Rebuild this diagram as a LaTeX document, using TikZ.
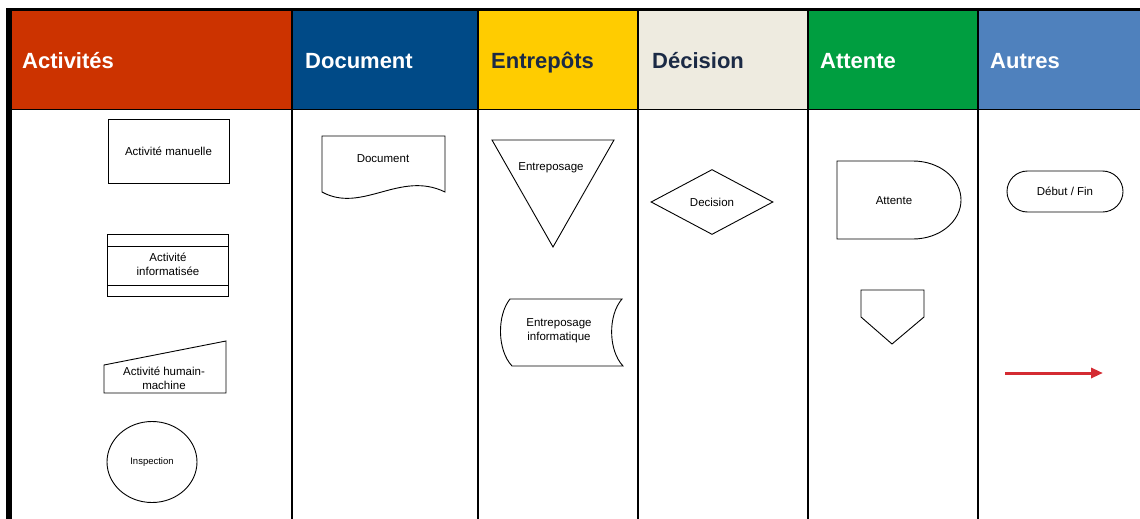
\documentclass[tikz,border=0pt]{standalone}
\usepackage{fontspec}
\setmainfont{Liberation Sans}
\usetikzlibrary{shapes.geometric,shapes.misc,arrows.meta}
\definecolor{actred}{HTML}{CC3300}
\definecolor{docblue}{HTML}{004A87}
\definecolor{entyellow}{HTML}{FFCC00}
\definecolor{decbeige}{HTML}{EEEBE0}
\definecolor{attgreen}{HTML}{009E40}
\definecolor{autblue}{HTML}{4F81BD}
\definecolor{headdark}{HTML}{1B2A45}
\definecolor{arrowred}{HTML}{D42B32}
\tikzset{
  lanehead/.style={anchor=base west, inner sep=0pt, font=\bfseries\fontsize{22}{24}\selectfont},
  lanerule/.style={draw=black, line width=1.5pt},
  headrule/.style={draw=black, line width=1pt},
  symline/.style={draw=black, line width=0.9pt},
  symlabel/.style={inner sep=0pt, align=center, font=\fontsize{11.5}{14}\selectfont},
  symnode/.style={symline, symlabel},
  flowarrow/.style={draw=arrowred, line width=3pt, -{Triangle[length=12pt, width=10pt]}}
}

\begin{document}
\begin{tikzpicture}[x=1pt,y=-1pt]
  \useasboundingbox (0,0) rectangle (1140,519);

  % header band
  \fill[actred] (12,11) rectangle (292,109);
  \fill[docblue] (292,11) rectangle (478,109);
  \fill[entyellow] (478,11) rectangle (638,109);
  \fill[decbeige] (638,11) rectangle (808,109);
  \fill[attgreen] (808,11) rectangle (978,109);
  \fill[autblue] (978,11) rectangle (1140,109);
  \node[lanehead, text=white] (hAct) at (22,68) {Activités};
  \node[lanehead, text=white] (hDoc) at (305,68) {Document};
  \node[lanehead, text=headdark] (hEnt) at (491,68) {Entrepôts};
  \node[lanehead, text=headdark] (hDec) at (652,68) {Décision};
  \node[lanehead, text=white] (hAtt) at (820,68) {Attente};
  \node[lanehead, text=white] (hAut) at (990,68) {Autres};

  % frame and lane rules
  \fill[black] (6,8) rectangle (12,519);
  \fill[black] (6,8) rectangle (1140,11);
  \draw[headrule] (12,109) -- (1140,109);
  \draw[lanerule] (292,11) -- (292,519);
  \draw[lanerule] (478,11) -- (478,519);
  \draw[lanerule] (638,11) -- (638,519);
  \draw[lanerule] (808,11) -- (808,519);
  \draw[lanerule] (978,11) -- (978,519);

  % Activites
  \node[symnode, rectangle, minimum width=121pt, minimum height=64pt] (manuelle) at (168.5,151) {Activité manuelle};
  \draw[symline] (107,234) rectangle (228,296);
  \draw[symline] (107,246) -- (228,246);
  \draw[symline] (107,285) -- (228,285);
  \node[symlabel] (informat) at (168,264) {Activité\\informatisée};
  \draw[symline] (104,365) -- (226,341) -- (226,393) -- (104,393) -- cycle;
  \node[symlabel] (humain) at (164,378) {Activité humain-\\machine};
  \node[symnode, ellipse, minimum width=90pt, minimum height=81pt, font=\fontsize{9.5}{11}\selectfont] (inspect) at (152,462) {Inspection};

  % Document
  \draw[symline] (322,192) -- (322,136) -- (445,136) -- (445,192)
    .. controls (400,170) and (362,214) .. (322,192) -- cycle;
  \node[symlabel] (document) at (383,159) {Document};

  % Entrepots
  \draw[symline] (492,140) -- (614,140) -- (553,247) -- cycle;
  \node[symlabel] (entrepo) at (551,168) {Entreposage};
  \draw[symline] (510,299) -- (622,299) .. controls (608,315) and (608,350) .. (623,366)
    -- (512,366) .. controls (497,350) and (497,315) .. (510,299) -- cycle;
  \node[symlabel] (entinfo) at (559,331) {Entreposage\\informatique};

  % Decision
  \node[symnode, diamond, minimum width=122pt, minimum height=65pt] (decision) at (712,202) {Decision};

  % Attente
  \draw[symline] (837,161) -- (913,161) arc[start angle=-90, end angle=90, x radius=48, y radius=39]
    -- (837,239) -- cycle;
  \node[symlabel] (attente) at (894,201) {Attente};
  \draw[symline] (861,290) -- (924,290) -- (924,317) -- (892,344) -- (861,317) -- cycle;

  % Autres
  \node[symnode, rounded rectangle, minimum width=116pt, minimum height=41pt] (debfin) at (1065,191.5) {Début / Fin};
  \coordinate (arrS) at (1005,373);
  \coordinate (arrE) at (1103,373);
  \draw[flowarrow] (arrS) -- (arrE);
\end{tikzpicture}
\end{document}
